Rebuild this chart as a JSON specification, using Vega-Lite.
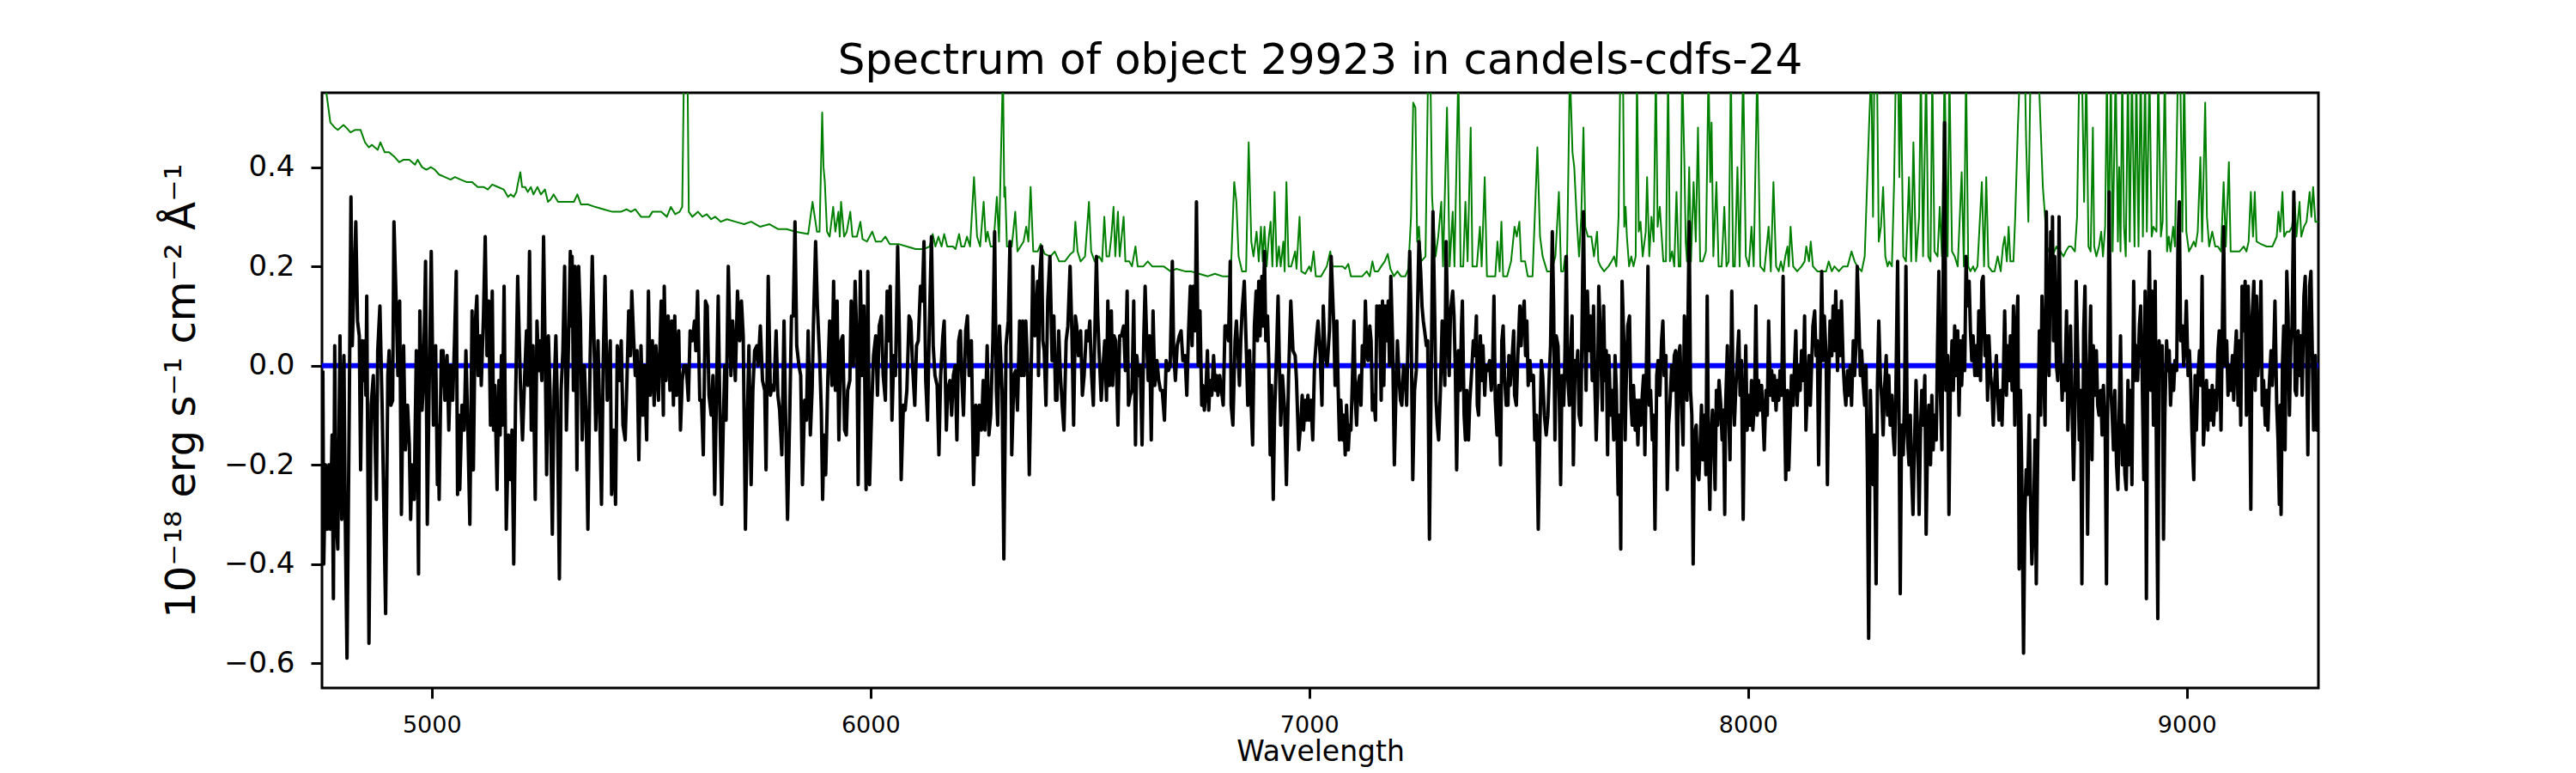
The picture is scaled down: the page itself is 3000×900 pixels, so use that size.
{
  "$schema": "https://vega.github.io/schema/vega-lite/v6.json",
  "width": 2325,
  "height": 693,
  "autosize": {"type": "none"},
  "padding": {"left": 375, "top": 108, "right": 300, "bottom": 99},
  "background": "white",
  "title": {
    "text": "Spectrum of object 29923 in candels-cdfs-24",
    "fontSize": 50,
    "fontWeight": "normal",
    "color": "black",
    "anchor": "middle",
    "frame": "group",
    "offset": 12
  },
  "config": {
    "font": "DejaVu Sans",
    "view": {"stroke": "black", "strokeWidth": 3}
  },
  "datasets": {
    "sky": [
      {"w":4750,"e":0.62},{"w":4760,"e":0.55},{"w":4769,"e":0.49},{"w":4779,"e":0.48},{"w":4786,"e":0.475},{"w":4799,"e":0.485},{"w":4805,"e":0.48},{"w":4815,"e":0.47},{"w":4825,"e":0.475},{"w":4838,"e":0.475},{"w":4848,"e":0.45},{"w":4857,"e":0.44},{"w":4864,"e":0.445},{"w":4870,"e":0.44},{"w":4877,"e":0.435},{"w":4883,"e":0.45},{"w":4893,"e":0.43},{"w":4903,"e":0.43},{"w":4916,"e":0.42},{"w":4926,"e":0.41},{"w":4936,"e":0.415},{"w":4949,"e":0.415},{"w":4962,"e":0.405},{"w":4968,"e":0.415},{"w":4978,"e":0.40},{"w":4988,"e":0.395},{"w":4998,"e":0.40},{"w":5007,"e":0.395},{"w":5017,"e":0.385},{"w":5030,"e":0.38},{"w":5043,"e":0.375},{"w":5053,"e":0.38},{"w":5066,"e":0.375},{"w":5079,"e":0.37},{"w":5092,"e":0.37},{"w":5105,"e":0.36},{"w":5118,"e":0.36},{"w":5128,"e":0.355},{"w":5138,"e":0.365},{"w":5151,"e":0.36},{"w":5164,"e":0.355},{"w":5174,"e":0.34},{"w":5180,"e":0.345},{"w":5187,"e":0.34},{"w":5193,"e":0.35},{"w":5196,"e":0.365},{"w":5202,"e":0.39},{"w":5206,"e":0.36},{"w":5213,"e":0.36},{"w":5219,"e":0.35},{"w":5226,"e":0.36},{"w":5232,"e":0.345},{"w":5241,"e":0.36},{"w":5249,"e":0.345},{"w":5258,"e":0.355},{"w":5265,"e":0.33},{"w":5271,"e":0.335},{"w":5278,"e":0.345},{"w":5288,"e":0.33},{"w":5307,"e":0.33},{"w":5324,"e":0.33},{"w":5332,"e":0.345},{"w":5340,"e":0.325},{"w":5356,"e":0.325},{"w":5372,"e":0.32},{"w":5392,"e":0.315},{"w":5412,"e":0.31},{"w":5431,"e":0.31},{"w":5444,"e":0.315},{"w":5454,"e":0.31},{"w":5464,"e":0.315},{"w":5477,"e":0.30},{"w":5496,"e":0.30},
      {"w":5503,"e":0.31},{"w":5523,"e":0.31},{"w":5536,"e":0.30},{"w":5545,"e":0.32},{"w":5555,"e":0.305},{"w":5565,"e":0.31},{"w":5571,"e":0.32},{"w":5575,"e":0.60},{"w":5583,"e":0.60},{"w":5586,"e":0.31},{"w":5594,"e":0.30},{"w":5607,"e":0.31},{"w":5617,"e":0.30},{"w":5627,"e":0.305},{"w":5637,"e":0.295},{"w":5646,"e":0.30},{"w":5659,"e":0.29},{"w":5673,"e":0.295},{"w":5692,"e":0.29},{"w":5712,"e":0.285},{"w":5728,"e":0.29},{"w":5748,"e":0.28},{"w":5770,"e":0.285},{"w":5790,"e":0.275},{"w":5809,"e":0.275},{"w":5829,"e":0.27},{"w":5858,"e":0.265},{"w":5868,"e":0.33},{"w":5878,"e":0.27},{"w":5884,"e":0.27},{"w":5890,"e":0.51},{"w":5893,"e":0.40},{"w":5896,"e":0.37},{"w":5901,"e":0.27},{"w":5907,"e":0.26},{"w":5915,"e":0.32},{"w":5920,"e":0.27},{"w":5927,"e":0.31},{"w":5930,"e":0.26},{"w":5933,"e":0.33},{"w":5940,"e":0.26},{"w":5946,"e":0.27},{"w":5954,"e":0.31},{"w":5959,"e":0.26},{"w":5969,"e":0.26},{"w":5977,"e":0.29},{"w":5982,"e":0.255},{"w":5992,"e":0.25},{"w":6004,"e":0.27},{"w":6012,"e":0.25},{"w":6025,"e":0.25},{"w":6034,"e":0.26},{"w":6044,"e":0.245},{"w":6064,"e":0.245},{"w":6083,"e":0.24},{"w":6103,"e":0.235},{"w":6122,"e":0.235},{"w":6135,"e":0.24},{"w":6142,"e":0.265},{"w":6148,"e":0.24},{"w":6155,"e":0.26},{"w":6162,"e":0.24},{"w":6168,"e":0.265},{"w":6175,"e":0.24},{"w":6188,"e":0.24},{"w":6194,"e":0.235},{"w":6202,"e":0.265},{"w":6207,"e":0.24},{"w":6214,"e":0.24},{"w":6220,"e":0.26},{"w":6227,"e":0.24},{"w":6236,"e":0.38},{"w":6243,"e":0.26},{"w":6250,"e":0.24},{"w":6258,"e":0.33},{"w":6263,"e":0.25},
      {"w":6267,"e":0.27},{"w":6274,"e":0.24},{"w":6280,"e":0.24},{"w":6288,"e":0.34},{"w":6293,"e":0.25},{"w":6302,"e":0.60},{"w":6305,"e":0.34},{"w":6307,"e":0.36},{"w":6311,"e":0.24},{"w":6316,"e":0.24},{"w":6322,"e":0.24},{"w":6330,"e":0.31},{"w":6335,"e":0.23},{"w":6342,"e":0.24},{"w":6349,"e":0.25},{"w":6355,"e":0.28},{"w":6360,"e":0.25},{"w":6365,"e":0.36},{"w":6371,"e":0.23},{"w":6381,"e":0.23},{"w":6388,"e":0.245},{"w":6397,"e":0.225},{"w":6410,"e":0.22},{"w":6420,"e":0.23},{"w":6430,"e":0.21},{"w":6443,"e":0.21},{"w":6456,"e":0.225},{"w":6463,"e":0.23},{"w":6467,"e":0.29},{"w":6472,"e":0.23},{"w":6479,"e":0.21},{"w":6489,"e":0.22},{"w":6498,"e":0.33},{"w":6503,"e":0.23},{"w":6511,"e":0.21},{"w":6521,"e":0.22},{"w":6528,"e":0.21},{"w":6533,"e":0.30},{"w":6538,"e":0.22},{"w":6544,"e":0.22},{"w":6549,"e":0.26},{"w":6554,"e":0.32},{"w":6558,"e":0.22},{"w":6564,"e":0.31},{"w":6568,"e":0.22},{"w":6577,"e":0.30},{"w":6581,"e":0.21},{"w":6590,"e":0.21},{"w":6596,"e":0.20},{"w":6604,"e":0.24},{"w":6609,"e":0.20},{"w":6622,"e":0.20},{"w":6632,"e":0.21},{"w":6642,"e":0.20},{"w":6658,"e":0.20},{"w":6668,"e":0.20},{"w":6684,"e":0.19},{"w":6697,"e":0.195},{"w":6717,"e":0.19},{"w":6730,"e":0.19},{"w":6749,"e":0.185},{"w":6769,"e":0.18},{"w":6785,"e":0.185},{"w":6802,"e":0.18},{"w":6821,"e":0.18},{"w":6829,"e":0.37},{"w":6834,"e":0.33},{"w":6839,"e":0.22},{"w":6847,"e":0.19},{"w":6856,"e":0.19},{"w":6862,"e":0.45},{"w":6868,"e":0.25},{"w":6873,"e":0.22},{"w":6880,"e":0.27},{"w":6885,"e":0.21},{"w":6890,"e":0.28},{"w":6894,"e":0.21},{"w":6898,"e":0.28},{"w":6903,"e":0.20},{"w":6908,"e":0.26},{"w":6912,"e":0.29},{"w":6916,"e":0.20},{"w":6921,"e":0.35},{"w":6926,"e":0.20},{"w":6931,"e":0.24},{"w":6935,"e":0.20},{"w":6941,"e":0.25},{"w":6944,"e":0.19},{"w":6948,"e":0.37},{"w":6953,"e":0.20},{"w":6959,"e":0.20},{"w":6968,"e":0.23},{"w":6971,"e":0.195},{"w":6978,"e":0.30},{"w":6982,"e":0.19},{"w":6991,"e":0.185},{"w":7000,"e":0.20},{"w":7004,"e":0.19},{"w":7010,"e":0.23},{"w":7015,"e":0.18},{"w":7027,"e":0.18},
      {"w":7040,"e":0.20},{"w":7048,"e":0.23},{"w":7053,"e":0.20},{"w":7063,"e":0.20},{"w":7076,"e":0.20},{"w":7082,"e":0.195},{"w":7089,"e":0.205},{"w":7095,"e":0.18},{"w":7108,"e":0.18},{"w":7121,"e":0.18},{"w":7131,"e":0.19},{"w":7138,"e":0.18},{"w":7144,"e":0.21},{"w":7149,"e":0.19},{"w":7157,"e":0.19},{"w":7164,"e":0.20},{"w":7172,"e":0.21},{"w":7179,"e":0.225},{"w":7185,"e":0.195},{"w":7193,"e":0.18},{"w":7201,"e":0.19},{"w":7209,"e":0.18},{"w":7219,"e":0.18},{"w":7226,"e":0.195},{"w":7232,"e":0.30},{"w":7237,"e":0.53},{"w":7242,"e":0.52},{"w":7246,"e":0.25},{"w":7250,"e":0.28},{"w":7255,"e":0.21},{"w":7265,"e":0.22},{"w":7271,"e":0.60},{"w":7276,"e":0.60},{"w":7280,"e":0.34},{"w":7284,"e":0.28},{"w":7288,"e":0.22},{"w":7294,"e":0.26},{"w":7301,"e":0.33},{"w":7305,"e":0.20},{"w":7314,"e":0.52},{"w":7320,"e":0.20},{"w":7327,"e":0.31},{"w":7331,"e":0.20},{"w":7340,"e":0.60},{"w":7345,"e":0.20},{"w":7351,"e":0.20},{"w":7356,"e":0.33},{"w":7361,"e":0.21},{"w":7368,"e":0.48},{"w":7372,"e":0.20},{"w":7382,"e":0.20},{"w":7389,"e":0.28},{"w":7393,"e":0.20},{"w":7400,"e":0.38},{"w":7405,"e":0.18},{"w":7415,"e":0.18},{"w":7424,"e":0.18},{"w":7429,"e":0.25},{"w":7434,"e":0.19},{"w":7438,"e":0.29},{"w":7442,"e":0.18},{"w":7451,"e":0.18},{"w":7460,"e":0.21},{"w":7468,"e":0.28},{"w":7473,"e":0.26},{"w":7479,"e":0.29},{"w":7483,"e":0.21},{"w":7492,"e":0.21},{"w":7498,"e":0.18},{"w":7509,"e":0.18},{"w":7520,"e":0.44},{"w":7526,"e":0.26},{"w":7532,"e":0.22},{"w":7542,"e":0.19},{"w":7552,"e":0.19},{"w":7561,"e":0.22},{"w":7569,"e":0.35},{"w":7574,"e":0.19},{"w":7579,"e":0.19},{"w":7583,"e":0.22},{"w":7587,"e":0.18},{"w":7594,"e":0.60},{"w":7600,"e":0.43},{"w":7604,"e":0.40},{"w":7610,"e":0.29},{"w":7615,"e":0.22},{"w":7620,"e":0.30},{"w":7625,"e":0.48},{"w":7629,"e":0.28},{"w":7635,"e":0.26},{"w":7643,"e":0.26},{"w":7649,"e":0.22},{"w":7656,"e":0.27},{"w":7659,"e":0.21},{"w":7664,"e":0.20},{"w":7672,"e":0.19},{"w":7682,"e":0.20},{"w":7689,"e":0.21},{"w":7695,"e":0.22},{"w":7700,"e":0.20},{"w":7705,"e":0.30},{"w":7709,"e":0.60},{"w":7715,"e":0.60},{"w":7718,"e":0.28},{"w":7721,"e":0.32},{"w":7724,"e":0.26},{"w":7729,"e":0.20},{"w":7734,"e":0.22},{"w":7739,"e":0.20},{"w":7744,"e":0.22},{"w":7747,"e":0.60},{"w":7751,"e":0.27},{"w":7755,"e":0.29},{"w":7760,"e":0.22},{"w":7767,"e":0.27},{"w":7770,"e":0.38},{"w":7775,"e":0.22},{"w":7780,"e":0.30},{"w":7785,"e":0.25},{"w":7790,"e":0.60},{"w":7794,"e":0.28},{"w":7799,"e":0.32},
      {"w":7807,"e":0.21},{"w":7813,"e":0.21},{"w":7818,"e":0.60},{"w":7822,"e":0.21},{"w":7827,"e":0.23},{"w":7832,"e":0.20},{"w":7837,"e":0.35},{"w":7842,"e":0.20},{"w":7846,"e":0.20},{"w":7850,"e":0.60},{"w":7855,"e":0.41},{"w":7858,"e":0.25},{"w":7861,"e":0.21},{"w":7866,"e":0.40},{"w":7870,"e":0.21},{"w":7876,"e":0.37},{"w":7881,"e":0.25},{"w":7886,"e":0.48},{"w":7891,"e":0.21},{"w":7897,"e":0.21},{"w":7904,"e":0.23},{"w":7910,"e":0.60},{"w":7914,"e":0.37},{"w":7917,"e":0.49},{"w":7921,"e":0.22},{"w":7928,"e":0.37},{"w":7933,"e":0.20},{"w":7940,"e":0.20},{"w":7946,"e":0.32},{"w":7951,"e":0.20},{"w":7956,"e":0.21},{"w":7961,"e":0.60},{"w":7966,"e":0.20},{"w":7970,"e":0.20},{"w":7976,"e":0.40},{"w":7981,"e":0.20},{"w":7989,"e":0.60},{"w":7995,"e":0.22},{"w":8002,"e":0.20},{"w":8008,"e":0.28},{"w":8013,"e":0.20},{"w":8021,"e":0.60},{"w":8028,"e":0.20},{"w":8037,"e":0.19},{"w":8047,"e":0.28},{"w":8052,"e":0.19},{"w":8058,"e":0.37},{"w":8064,"e":0.20},{"w":8070,"e":0.19},{"w":8075,"e":0.21},{"w":8080,"e":0.19},{"w":8085,"e":0.22},{"w":8090,"e":0.24},{"w":8093,"e":0.20},{"w":8097,"e":0.28},{"w":8103,"e":0.20},{"w":8112,"e":0.19},{"w":8122,"e":0.20},{"w":8129,"e":0.21},{"w":8133,"e":0.24},{"w":8139,"e":0.21},{"w":8143,"e":0.25},{"w":8148,"e":0.20},{"w":8158,"e":0.19},{"w":8168,"e":0.19},{"w":8178,"e":0.19},{"w":8184,"e":0.21},{"w":8191,"e":0.19},{"w":8197,"e":0.20},{"w":8207,"e":0.19},{"w":8217,"e":0.20},{"w":8227,"e":0.20},{"w":8236,"e":0.23},{"w":8243,"e":0.21},{"w":8249,"e":0.20},{"w":8259,"e":0.19},{"w":8266,"e":0.22},{"w":8272,"e":0.38},{"w":8277,"e":0.51},{"w":8281,"e":0.60},{"w":8285,"e":0.30},{"w":8288,"e":0.60},{"w":8294,"e":0.60},{"w":8298,"e":0.25},{"w":8303,"e":0.28},{"w":8308,"e":0.36},{"w":8313,"e":0.22},{"w":8318,"e":0.20},{"w":8322,"e":0.21},{"w":8328,"e":0.20},{"w":8333,"e":0.37},{"w":8337,"e":0.60},{"w":8342,"e":0.60},{"w":8345,"e":0.38},{"w":8348,"e":0.60},{"w":8354,"e":0.22},{"w":8360,"e":0.21},{"w":8367,"e":0.38},{"w":8372,"e":0.21},{"w":8377,"e":0.45},{"w":8383,"e":0.21},{"w":8390,"e":0.30},{"w":8394,"e":0.60},{"w":8399,"e":0.22},{"w":8406,"e":0.60},{"w":8411,"e":0.22},{"w":8416,"e":0.21},{"w":8420,"e":0.60},{"w":8425,"e":0.23},{"w":8432,"e":0.22},{"w":8437,"e":0.32},{"w":8442,"e":0.22},{"w":8448,"e":0.60},{"w":8455,"e":0.22},{"w":8459,"e":0.60},{"w":8465,"e":0.23},{"w":8471,"e":0.22},{"w":8478,"e":0.20},{"w":8487,"e":0.39},{"w":8492,"e":0.20},{"w":8497,"e":0.60},{"w":8502,"e":0.20},{"w":8507,"e":0.19},{"w":8513,"e":0.20},{"w":8517,"e":0.19},{"w":8523,"e":0.20},{"w":8533,"e":0.37},{"w":8538,"e":0.20},{"w":8543,"e":0.38},{"w":8548,"e":0.20},{"w":8556,"e":0.19},{"w":8562,"e":0.19},{"w":8569,"e":0.22},
      {"w":8576,"e":0.19},{"w":8581,"e":0.24},{"w":8585,"e":0.26},{"w":8590,"e":0.21},{"w":8594,"e":0.28},{"w":8598,"e":0.21},{"w":8605,"e":0.21},{"w":8609,"e":0.30},{"w":8615,"e":0.48},{"w":8620,"e":0.60},{"w":8624,"e":0.60},{"w":8631,"e":0.60},{"w":8634,"e":0.45},{"w":8639,"e":0.29},{"w":8644,"e":0.60},{"w":8654,"e":0.60},{"w":8662,"e":0.60},{"w":8667,"e":0.48},{"w":8672,"e":0.36},{"w":8677,"e":0.30},{"w":8681,"e":0.24},{"w":8686,"e":0.23},{"w":8693,"e":0.22},{"w":8703,"e":0.24},{"w":8712,"e":0.23},{"w":8719,"e":0.22},{"w":8724,"e":0.23},{"w":8731,"e":0.24},{"w":8737,"e":0.24},{"w":8745,"e":0.23},{"w":8750,"e":0.30},{"w":8755,"e":0.60},{"w":8761,"e":0.60},{"w":8766,"e":0.33},{"w":8771,"e":0.60},{"w":8776,"e":0.24},{"w":8781,"e":0.23},{"w":8786,"e":0.48},{"w":8789,"e":0.24},{"w":8794,"e":0.22},{"w":8800,"e":0.24},{"w":8805,"e":0.27},{"w":8809,"e":0.22},{"w":8814,"e":0.28},{"w":8818,"e":0.60},{"w":8822,"e":0.22},{"w":8827,"e":0.60},{"w":8831,"e":0.23},{"w":8838,"e":0.60},{"w":8843,"e":0.25},{"w":8846,"e":0.40},{"w":8849,"e":0.23},{"w":8853,"e":0.60},{"w":8857,"e":0.28},{"w":8861,"e":0.22},{"w":8866,"e":0.60},{"w":8870,"e":0.25},{"w":8875,"e":0.60},{"w":8881,"e":0.24},{"w":8885,"e":0.60},{"w":8890,"e":0.24},{"w":8895,"e":0.60},{"w":8900,"e":0.26},{"w":8905,"e":0.60},{"w":8909,"e":0.27},{"w":8915,"e":0.60},{"w":8920,"e":0.26},{"w":8924,"e":0.28},{"w":8931,"e":0.27},{"w":8935,"e":0.60},{"w":8941,"e":0.26},{"w":8945,"e":0.29},{"w":8950,"e":0.60},{"w":8955,"e":0.23},{"w":8959,"e":0.26},{"w":8963,"e":0.23},{"w":8969,"e":0.28},{"w":8973,"e":0.24},{"w":8980,"e":0.60},{"w":8985,"e":0.60},{"w":8990,"e":0.27},{"w":8994,"e":0.60},{"w":8999,"e":0.27},{"w":9005,"e":0.23},{"w":9011,"e":0.24},{"w":9016,"e":0.25},{"w":9020,"e":0.24},{"w":9025,"e":0.27},{"w":9031,"e":0.42},{"w":9035,"e":0.25},{"w":9042,"e":0.53},{"w":9046,"e":0.30},{"w":9051,"e":0.24},{"w":9058,"e":0.27},{"w":9065,"e":0.24},{"w":9071,"e":0.24},{"w":9078,"e":0.23},{"w":9084,"e":0.37},{"w":9089,"e":0.24},{"w":9096,"e":0.41},{"w":9100,"e":0.23},{"w":9110,"e":0.23},{"w":9120,"e":0.23},{"w":9130,"e":0.24},{"w":9136,"e":0.23},{"w":9141,"e":0.25},{"w":9146,"e":0.35},{"w":9151,"e":0.26},{"w":9155,"e":0.35},{"w":9159,"e":0.25},{"w":9169,"e":0.245},{"w":9182,"e":0.24},{"w":9195,"e":0.24},{"w":9205,"e":0.26},{"w":9209,"e":0.31},{"w":9213,"e":0.27},{"w":9218,"e":0.35},{"w":9222,"e":0.26},{"w":9228,"e":0.27},{"w":9234,"e":0.27},{"w":9240,"e":0.28},{"w":9246,"e":0.33},{"w":9250,"e":0.26},{"w":9257,"e":0.33},{"w":9261,"e":0.26},{"w":9267,"e":0.28},{"w":9273,"e":0.29},{"w":9280,"e":0.35},{"w":9284,"e":0.30},{"w":9288,"e":0.36},{"w":9293,"e":0.29},{"w":9300,"e":0.29}
    ],
    "flux": [
      {"w":4752,"f":-0.01},{"w":4754,"f":-0.40},{"w":4758,"f":-0.20},{"w":4762,"f":-0.33},{"w":4766,"f":-0.20},{"w":4769,"f":-0.33},{"w":4773,"f":-0.14},{"w":4776,"f":-0.47},{"w":4779,"f":0.04},{"w":4782,"f":-0.30},{"w":4786,"f":-0.37},{"w":4791,"f":0.06},{"w":4795,"f":-0.31},{"w":4800,"f":0.02},{"w":4803,"f":-0.31},{"w":4807,"f":-0.59},{"w":4812,"f":-0.10},{"w":4816,"f":0.34},{"w":4819,"f":0.04},{"w":4827,"f":0.29},{"w":4831,"f":0.09},{"w":4835,"f":0.06},{"w":4838,"f":-0.21},{"w":4842,"f":0.05},{"w":4846,"f":-0.03},{"w":4848,"f":0.05},{"w":4850,"f":-0.06},{"w":4852,"f":0.14},{"w":4857,"f":-0.56},{"w":4862,"f":-0.08},{"w":4867,"f":-0.02},{"w":4870,"f":-0.12},{"w":4874,"f":-0.27},{"w":4877,"f":0.03},{"w":4882,"f":0.12},{"w":4887,"f":-0.08},{"w":4895,"f":-0.50},{"w":4900,"f":-0.02},{"w":4903,"f":0.03},{"w":4907,"f":-0.08},{"w":4911,"f":-0.07},{"w":4914,"f":0.29},{"w":4919,"f":0.13},{"w":4923,"f":-0.02},{"w":4927,"f":0.13},{"w":4931,"f":-0.30},{"w":4936,"f":0.04},{"w":4940,"f":-0.17},{"w":4945,"f":-0.08},{"w":4949,"f":-0.16},{"w":4952,"f":-0.31},{"w":4955,"f":-0.20},{"w":4960,"f":-0.27},{"w":4965,"f":0.03},{"w":4970,"f":-0.42},{"w":4973,"f":0.11},{"w":4978,"f":-0.09},{"w":4981,"f":-0.04},{"w":4986,"f":0.21},{"w":4990,"f":-0.32},{"w":4994,"f":-0.06},{"w":4999,"f":0.23},{"w":5004,"f":-0.12},{"w":5009,"f":0.04},{"w":5013,"f":-0.24},{"w":5015,"f":-0.12},{"w":5017,"f":-0.27},{"w":5022,"f":0.03},{"w":5024,"f":-0.04},{"w":5026,"f":0.03},{"w":5030,"f":-0.07},{"w":5035,"f":0.02},{"w":5039,"f":-0.13},{"w":5043,"f":0.00},{"w":5048,"f":-0.07},{"w":5052,"f":0.05},{"w":5056,"f":0.19},{"w":5059,"f":-0.26},{"w":5062,"f":-0.10},{"w":5064,"f":-0.25},{"w":5069,"f":-0.08},{"w":5074,"f":-0.13},{"w":5078,"f":0.03},{"w":5082,"f":-0.11},{"w":5087,"f":-0.32},{"w":5092,"f":0.11},{"w":5095,"f":-0.21},{"w":5099,"f":0.08},{"w":5103,"f":0.14},{"w":5106,"f":-0.02},{"w":5110,"f":0.06},{"w":5113,"f":-0.04},{"w":5118,"f":0.10},{"w":5122,"f":0.26},{"w":5126,"f":0.02},{"w":5130,"f":0.13},{"w":5134,"f":-0.12},{"w":5138,"f":0.15},{"w":5141,"f":-0.13},{"w":5144,"f":-0.04},{"w":5149,"f":-0.25},{"w":5153,"f":-0.03},{"w":5156,"f":-0.14},{"w":5159,"f":0.02},{"w":5161,"f":-0.12},{"w":5165,"f":0.16},{"w":5170,"f":-0.33},{"w":5175,"f":-0.14},{"w":5180,"f":-0.23},{"w":5183,"f":-0.13},{"w":5187,"f":-0.40},{"w":5191,"f":-0.08},{"w":5196,"f":0.18},{"w":5202,"f":-0.03},{"w":5207,"f":-0.15},{"w":5212,"f":-0.02},{"w":5216,"f":0.07},{"w":5219,"f":-0.04},{"w":5223,"f":0.23},{"w":5227,"f":-0.13},{"w":5231,"f":0.04},{"w":5236,"f":-0.27},{"w":5240,"f":0.09},{"w":5244,"f":-0.01},{"w":5247,"f":0.05},{"w":5251,"f":-0.03},{"w":5255,"f":0.26},{"w":5259,"f":0.00},{"w":5262,"f":-0.22},{"w":5266,"f":0.06},{"w":5270,"f":-0.06},{"w":5275,"f":-0.34},{"w":5279,"f":-0.05},{"w":5283,"f":0.06},{"w":5286,"f":-0.06},{"w":5291,"f":-0.43},{"w":5295,"f":-0.05},{"w":5299,"f":0.03},{"w":5303,"f":0.20},{"w":5307,"f":-0.13},{"w":5311,"f":0.01},{"w":5316,"f":0.23},{"w":5318,"f":0.08},{"w":5320,"f":0.22},{"w":5323,"f":-0.05},{"w":5327,"f":0.20},{"w":5331,"f":-0.21},{"w":5335,"f":0.20},{"w":5339,"f":0.09},{"w":5343,"f":-0.15},{"w":5348,"f":0.00},{"w":5352,"f":-0.10},{"w":5356,"f":-0.33},{"w":5361,"f":0.01},{"w":5366,"f":0.22},{"w":5370,"f":0.05},{"w":5374,"f":-0.13},{"w":5379,"f":0.05},{"w":5383,"f":-0.10},{"w":5387,"f":-0.28},{"w":5391,"f":0.01},{"w":5395,"f":0.18},{"w":5400,"f":-0.07},{"w":5404,"f":-0.02},{"w":5407,"f":0.05},{"w":5410,"f":-0.26},{"w":5415,"f":-0.13},{"w":5419,"f":-0.28},{"w":5423,"f":0.04},{"w":5428,"f":-0.03},{"w":5432,"f":0.05},{"w":5436,"f":-0.12},{"w":5441,"f":-0.15},{"w":5445,"f":-0.03},{"w":5449,"f":0.11},{"w":5453,"f":0.02},{"w":5456,"f":0.15},{"w":5460,"f":0.06},{"w":5464,"f":-0.02},{"w":5468,"f":0.03},{"w":5472,"f":-0.19},{"w":5477,"f":0.04},{"w":5481,"f":-0.10},{"w":5485,"f":0.00},{"w":5490,"f":-0.15},{"w":5494,"f":0.15},{"w":5498,"f":-0.06},{"w":5503,"f":0.05},{"w":5507,"f":-0.08},{"w":5511,"f":0.04},{"w":5517,"f":-0.07},
      {"w":5523,"f":0.13},{"w":5528,"f":-0.10},{"w":5530,"f":0.16},{"w":5534,"f":-0.03},{"w":5539,"f":0.10},{"w":5543,"f":-0.05},{"w":5547,"f":0.09},{"w":5551,"f":-0.08},{"w":5554,"f":0.10},{"w":5558,"f":-0.06},{"w":5563,"f":0.07},{"w":5567,"f":-0.13},{"w":5571,"f":-0.03},{"w":5575,"f":0.00},{"w":5580,"f":0.00},{"w":5585,"f":-0.07},{"w":5589,"f":0.07},{"w":5594,"f":0.05},{"w":5599,"f":0.09},{"w":5602,"f":0.03},{"w":5606,"f":0.15},{"w":5611,"f":-0.07},{"w":5615,"f":-0.07},{"w":5619,"f":-0.18},{"w":5624,"f":0.13},{"w":5628,"f":0.12},{"w":5632,"f":-0.06},{"w":5637,"f":-0.10},{"w":5641,"f":-0.02},{"w":5645,"f":-0.26},{"w":5650,"f":-0.01},{"w":5653,"f":0.14},{"w":5657,"f":-0.10},{"w":5661,"f":-0.28},{"w":5665,"f":-0.10},{"w":5668,"f":0.00},{"w":5671,"f":-0.11},{"w":5676,"f":0.20},{"w":5679,"f":0.09},{"w":5682,"f":-0.02},{"w":5686,"f":0.09},{"w":5692,"f":-0.03},{"w":5697,"f":0.15},{"w":5702,"f":0.05},{"w":5706,"f":0.13},{"w":5710,"f":0.06},{"w":5715,"f":-0.33},{"w":5719,"f":-0.12},{"w":5723,"f":0.04},{"w":5728,"f":-0.24},{"w":5732,"f":-0.05},{"w":5736,"f":0.03},{"w":5741,"f":0.04},{"w":5744,"f":0.00},{"w":5749,"f":0.08},{"w":5754,"f":-0.03},{"w":5759,"f":-0.05},{"w":5762,"f":-0.21},{"w":5767,"f":0.18},{"w":5772,"f":-0.06},{"w":5776,"f":-0.04},{"w":5780,"f":-0.05},{"w":5785,"f":0.07},{"w":5789,"f":-0.06},{"w":5793,"f":-0.09},{"w":5798,"f":-0.18},{"w":5803,"f":0.09},{"w":5807,"f":-0.12},{"w":5811,"f":-0.31},{"w":5816,"f":-0.10},{"w":5820,"f":0.10},{"w":5824,"f":0.10},{"w":5828,"f":0.29},{"w":5832,"f":0.04},{"w":5837,"f":0.00},{"w":5841,"f":-0.02},{"w":5845,"f":-0.24},{"w":5850,"f":-0.07},{"w":5854,"f":-0.11},{"w":5858,"f":0.07},{"w":5863,"f":-0.14},{"w":5867,"f":-0.05},{"w":5870,"f":0.08},{"w":5875,"f":0.25},{"w":5879,"f":0.12},{"w":5884,"f":0.02},{"w":5888,"f":-0.09},{"w":5891,"f":-0.27},{"w":5894,"f":-0.14},{"w":5898,"f":-0.22},{"w":5903,"f":-0.02},{"w":5907,"f":0.09},{"w":5912,"f":-0.04},{"w":5916,"f":0.17},{"w":5920,"f":-0.05},{"w":5924,"f":0.13},{"w":5928,"f":-0.15},{"w":5933,"f":0.05},{"w":5937,"f":0.06},{"w":5941,"f":-0.13},{"w":5945,"f":-0.14},{"w":5948,"f":-0.05},{"w":5953,"f":-0.03},{"w":5956,"f":0.13},{"w":5961,"f":0.00},{"w":5965,"f":0.17},{"w":5969,"f":0.05},{"w":5972,"f":-0.24},{"w":5977,"f":0.19},{"w":5981,"f":-0.02},{"w":5985,"f":0.12},{"w":5990,"f":-0.25},{"w":5994,"f":0.19},{"w":5998,"f":-0.24},{"w":6003,"f":-0.08},{"w":6007,"f":0.02},{"w":6012,"f":0.06},{"w":6016,"f":-0.06},{"w":6020,"f":0.08},{"w":6025,"f":0.10},{"w":6029,"f":-0.02},{"w":6034,"f":-0.07},{"w":6038,"f":0.15},{"w":6042,"f":0.05},{"w":6045,"f":0.16},{"w":6049,"f":-0.11},{"w":6053,"f":0.02},{"w":6057,"f":-0.02},{"w":6062,"f":0.24},{"w":6066,"f":0.06},{"w":6070,"f":-0.23},{"w":6075,"f":-0.08},{"w":6079,"f":-0.09},{"w":6083,"f":-0.05},{"w":6088,"f":0.10},{"w":6092,"f":0.09},{"w":6096,"f":0.00},{"w":6101,"f":-0.08},{"w":6105,"f":0.04},{"w":6109,"f":0.05},{"w":6114,"f":0.16},{"w":6118,"f":0.13},{"w":6122,"f":0.25},{"w":6126,"f":-0.03},{"w":6130,"f":-0.11},{"w":6134,"f":0.07},{"w":6139,"f":0.26},{"w":6143,"f":0.04},{"w":6147,"f":-0.02},{"w":6152,"f":-0.04},{"w":6156,"f":-0.18},{"w":6160,"f":-0.02},{"w":6165,"f":0.06},{"w":6168,"f":0.09},{"w":6173,"f":-0.13},{"w":6176,"f":-0.05},{"w":6181,"f":-0.03},{"w":6185,"f":-0.10},{"w":6189,"f":-0.02},{"w":6193,"f":0.00},{"w":6197,"f":-0.15},{"w":6201,"f":0.05},{"w":6205,"f":0.07},{"w":6208,"f":-0.02},{"w":6212,"f":-0.10},{"w":6217,"f":0.07},{"w":6221,"f":0.10},{"w":6225,"f":-0.02},{"w":6230,"f":0.05},{"w":6235,"f":-0.24},{"w":6240,"f":-0.08},{"w":6244,"f":-0.18},{"w":6248,"f":-0.08},{"w":6253,"f":-0.13},{"w":6257,"f":-0.03},{"w":6261,"f":-0.13},{"w":6266,"f":0.04},{"w":6270,"f":-0.14},{"w":6274,"f":-0.10},{"w":6279,"f":0.05},
      {"w":6283,"f":0.27},{"w":6287,"f":-0.05},{"w":6290,"f":-0.12},{"w":6294,"f":0.08},{"w":6300,"f":-0.05},{"w":6304,"f":-0.39},{"w":6309,"f":0.04},{"w":6314,"f":0.09},{"w":6318,"f":0.25},{"w":6322,"f":-0.18},{"w":6327,"f":-0.02},{"w":6331,"f":-0.01},{"w":6335,"f":-0.09},{"w":6340,"f":0.09},{"w":6344,"f":-0.02},{"w":6347,"f":0.09},{"w":6350,"f":-0.02},{"w":6354,"f":0.09},{"w":6358,"f":0.00},{"w":6362,"f":-0.22},{"w":6366,"f":-0.03},{"w":6370,"f":0.20},{"w":6375,"f":0.06},{"w":6378,"f":0.10},{"w":6381,"f":0.17},{"w":6383,"f":-0.02},{"w":6386,"f":0.18},{"w":6390,"f":0.24},{"w":6393,"f":0.05},{"w":6396,"f":0.03},{"w":6400,"f":-0.08},{"w":6404,"f":0.13},{"w":6409,"f":0.22},{"w":6414,"f":0.01},{"w":6418,"f":0.10},{"w":6422,"f":-0.07},{"w":6425,"f":-0.07},{"w":6429,"f":0.07},{"w":6433,"f":-0.02},{"w":6437,"f":-0.08},{"w":6441,"f":-0.13},{"w":6446,"f":0.05},{"w":6450,"f":0.08},{"w":6455,"f":0.20},{"w":6459,"f":0.07},{"w":6463,"f":-0.12},{"w":6467,"f":0.10},{"w":6470,"f":0.08},{"w":6474,"f":0.02},{"w":6479,"f":0.07},{"w":6483,"f":-0.06},{"w":6487,"f":-0.02},{"w":6492,"f":0.07},{"w":6496,"f":0.05},{"w":6500,"f":0.09},{"w":6504,"f":-0.02},{"w":6508,"f":-0.08},{"w":6511,"f":0.05},{"w":6515,"f":0.22},{"w":6518,"f":0.10},{"w":6521,"f":0.03},{"w":6526,"f":-0.07},{"w":6531,"f":0.01},{"w":6534,"f":0.05},{"w":6538,"f":-0.07},{"w":6541,"f":0.13},{"w":6545,"f":-0.04},{"w":6549,"f":0.11},{"w":6552,"f":-0.04},{"w":6555,"f":0.06},{"w":6559,"f":0.05},{"w":6564,"f":-0.12},{"w":6568,"f":0.06},{"w":6572,"f":0.06},{"w":6577,"f":0.08},{"w":6581,"f":-0.01},{"w":6585,"f":0.15},{"w":6588,"f":-0.08},{"w":6592,"f":-0.06},{"w":6596,"f":-0.05},{"w":6600,"f":0.13},{"w":6604,"f":-0.16},{"w":6607,"f":0.02},{"w":6611,"f":-0.02},{"w":6615,"f":0.00},{"w":6619,"f":-0.16},{"w":6623,"f":0.06},{"w":6626,"f":0.16},{"w":6630,"f":0.04},{"w":6633,"f":-0.03},{"w":6636,"f":0.06},{"w":6640,"f":-0.15},{"w":6644,"f":0.11},{"w":6648,"f":-0.04},{"w":6653,"f":0.01},{"w":6657,"f":-0.03},{"w":6661,"f":-0.05},{"w":6665,"f":-0.05},{"w":6670,"f":-0.11},{"w":6674,"f":0.01},{"w":6679,"f":-0.01},{"w":6683,"f":0.00},{"w":6688,"f":0.21},{"w":6691,"f":0.03},{"w":6695,"f":-0.03},{"w":6699,"f":0.04},{"w":6704,"f":0.06},{"w":6708,"f":0.07},{"w":6712,"f":0.01},{"w":6717,"f":0.02},{"w":6721,"f":-0.06},{"w":6725,"f":0.07},{"w":6729,"f":0.16},{"w":6733,"f":0.04},{"w":6736,"f":0.16},{"w":6740,"f":0.07},{"w":6743,"f":0.33},{"w":6747,"f":0.00},{"w":6751,"f":0.11},{"w":6755,"f":-0.08},{"w":6757,"f":-0.04},{"w":6761,"f":-0.09},{"w":6764,"f":-0.06},{"w":6768,"f":0.03},{"w":6771,"f":-0.09},{"w":6774,"f":-0.03},{"w":6778,"f":-0.06},{"w":6782,"f":0.02},{"w":6786,"f":-0.05},{"w":6789,"f":-0.02},{"w":6792,"f":-0.06},{"w":6796,"f":-0.02},{"w":6800,"f":-0.05},{"w":6804,"f":-0.08},{"w":6808,"f":0.08},{"w":6812,"f":0.08},{"w":6816,"f":0.05},{"w":6820,"f":0.21},{"w":6822,"f":-0.08},{"w":6826,"f":-0.12},{"w":6831,"f":0.05},{"w":6834,"f":0.09},{"w":6838,"f":0.02},{"w":6841,"f":-0.04},{"w":6844,"f":0.05},{"w":6847,"f":0.11},{"w":6852,"f":0.17},{"w":6857,"f":0.02},{"w":6860,"f":-0.08},{"w":6864,"f":0.03},{"w":6867,"f":-0.06},{"w":6871,"f":-0.16},{"w":6875,"f":0.08},{"w":6879,"f":0.15},{"w":6882,"f":0.05},{"w":6885,"f":0.17},{"w":6888,"f":0.06},{"w":6892,"f":0.18},{"w":6895,"f":0.08},{"w":6898,"f":0.23},{"w":6901,"f":0.05},{"w":6905,"f":0.10},{"w":6908,"f":0.00},{"w":6911,"f":-0.18},{"w":6914,"f":-0.04},{"w":6918,"f":-0.27},{"w":6921,"f":-0.10},{"w":6926,"f":0.04},{"w":6929,"f":0.14},{"w":6932,"f":0.00},{"w":6935,"f":-0.12},{"w":6939,"f":-0.02},{"w":6944,"f":-0.09},{"w":6948,"f":-0.24},{"w":6953,"f":-0.02},{"w":6958,"f":0.13},{"w":6963,"f":0.03},{"w":6968,"f":0.02},{"w":6971,"f":-0.03},{"w":6976,"f":-0.17},{"w":6981,"f":-0.11},{"w":6984,"f":-0.06},{"w":6987,"f":-0.13},{"w":6991,"f":-0.07},{"w":6994,"f":-0.11},{"w":6997,"f":-0.06},{"w":7000,"f":-0.11},{"w":7004,"f":-0.07},{"w":7008,"f":-0.15},{"w":7012,"f":0.00},{"w":7017,"f":0.06},{"w":7020,"f":0.09},{"w":7025,"f":0.02},{"w":7029,"f":-0.08},{"w":7032,"f":0.12},{"w":7036,"f":0.02},{"w":7041,"f":0.00},{"w":7046,"f":0.07},
      {"w":7050,"f":0.22},{"w":7056,"f":0.08},{"w":7059,"f":-0.04},{"w":7063,"f":0.09},{"w":7066,"f":-0.05},{"w":7069,"f":-0.15},{"w":7072,"f":-0.07},{"w":7076,"f":-0.15},{"w":7079,"f":-0.10},{"w":7082,"f":-0.18},{"w":7085,"f":-0.08},{"w":7089,"f":-0.17},{"w":7092,"f":-0.12},{"w":7095,"f":-0.13},{"w":7098,"f":-0.04},{"w":7102,"f":0.09},{"w":7105,"f":-0.07},{"w":7108,"f":-0.12},{"w":7111,"f":-0.04},{"w":7115,"f":-0.02},{"w":7118,"f":-0.08},{"w":7121,"f":0.04},{"w":7125,"f":0.00},{"w":7128,"f":0.13},{"w":7131,"f":0.03},{"w":7134,"f":0.01},{"w":7138,"f":0.08},{"w":7141,"f":0.05},{"w":7144,"f":-0.09},{"w":7147,"f":-0.06},{"w":7151,"f":-0.11},{"w":7154,"f":0.12},{"w":7157,"f":0.06},{"w":7160,"f":0.12},{"w":7164,"f":-0.07},{"w":7167,"f":0.13},{"w":7170,"f":-0.04},{"w":7173,"f":0.12},{"w":7177,"f":0.05},{"w":7180,"f":0.13},{"w":7183,"f":0.00},{"w":7186,"f":0.18},{"w":7190,"f":0.05},{"w":7194,"f":-0.20},{"w":7198,"f":-0.04},{"w":7201,"f":0.05},{"w":7205,"f":-0.03},{"w":7208,"f":-0.07},{"w":7211,"f":-0.08},{"w":7215,"f":0.00},{"w":7219,"f":-0.02},{"w":7222,"f":-0.08},{"w":7226,"f":0.09},{"w":7229,"f":0.23},{"w":7232,"f":0.10},{"w":7236,"f":-0.23},{"w":7240,"f":-0.05},{"w":7244,"f":-0.01},{"w":7247,"f":0.12},{"w":7250,"f":0.25},{"w":7254,"f":0.19},{"w":7257,"f":0.12},{"w":7260,"f":0.09},{"w":7263,"f":0.07},{"w":7267,"f":0.04},{"w":7270,"f":0.05},{"w":7274,"f":-0.35},{"w":7278,"f":-0.02},{"w":7282,"f":0.31},{"w":7286,"f":0.10},{"w":7289,"f":-0.07},{"w":7292,"f":-0.12},{"w":7295,"f":-0.15},{"w":7299,"f":-0.05},{"w":7303,"f":0.09},{"w":7306,"f":0.03},{"w":7309,"f":-0.04},{"w":7312,"f":0.25},{"w":7316,"f":0.06},{"w":7319,"f":-0.02},{"w":7322,"f":0.11},{"w":7327,"f":0.15},{"w":7330,"f":0.10},{"w":7333,"f":-0.01},{"w":7336,"f":-0.21},{"w":7340,"f":0.03},{"w":7344,"f":-0.05},{"w":7347,"f":0.08},{"w":7349,"f":0.13},{"w":7353,"f":-0.10},{"w":7356,"f":-0.15},{"w":7359,"f":-0.05},{"w":7363,"f":-0.15},{"w":7366,"f":-0.07},{"w":7369,"f":-0.03},{"w":7374,"f":0.05},{"w":7377,"f":0.02},{"w":7381,"f":0.10},{"w":7383,"f":-0.08},{"w":7386,"f":-0.10},{"w":7390,"f":0.06},{"w":7394,"f":-0.03},{"w":7396,"f":0.04},{"w":7400,"f":-0.06},{"w":7403,"f":0.00},{"w":7407,"f":-0.01},{"w":7411,"f":0.01},{"w":7415,"f":-0.05},{"w":7418,"f":0.00},{"w":7421,"f":0.14},{"w":7424,"f":-0.07},{"w":7428,"f":-0.14},{"w":7432,"f":-0.04},{"w":7436,"f":-0.20},{"w":7439,"f":0.05},{"w":7442,"f":0.08},{"w":7445,"f":-0.02},{"w":7449,"f":-0.08},{"w":7453,"f":-0.08},{"w":7455,"f":0.02},{"w":7458,"f":-0.04},{"w":7462,"f":0.01},{"w":7466,"f":0.07},{"w":7468,"f":-0.06},{"w":7472,"f":-0.08},{"w":7475,"f":0.01},{"w":7480,"f":0.12},{"w":7483,"f":0.04},{"w":7486,"f":0.10},{"w":7490,"f":0.13},{"w":7493,"f":0.02},{"w":7496,"f":0.09},{"w":7499,"f":-0.04},{"w":7503,"f":0.01},{"w":7506,"f":-0.03},{"w":7511,"f":-0.02},{"w":7514,"f":-0.15},{"w":7518,"f":-0.10},{"w":7522,"f":-0.33},{"w":7526,"f":-0.12},{"w":7529,"f":0.01},{"w":7532,"f":-0.02},{"w":7536,"f":-0.10},{"w":7540,"f":-0.14},{"w":7544,"f":-0.10},{"w":7547,"f":-0.02},{"w":7550,"f":0.04},{"w":7554,"f":0.27},{"w":7557,"f":0.12},{"w":7560,"f":-0.15},{"w":7563,"f":0.06},{"w":7567,"f":0.04},{"w":7570,"f":-0.07},{"w":7573,"f":-0.24},{"w":7576,"f":-0.02},{"w":7580,"f":-0.08},{"w":7582,"f":-0.02},{"w":7586,"f":0.22},{"w":7589,"f":-0.02},{"w":7593,"f":-0.08},{"w":7596,"f":0.03},{"w":7599,"f":0.10},{"w":7602,"f":-0.20},{"w":7606,"f":0.01},{"w":7609,"f":-0.01},{"w":7612,"f":0.03},{"w":7615,"f":-0.10},{"w":7619,"f":-0.12},{"w":7625,"f":0.31},{"w":7628,"f":0.07},{"w":7631,"f":-0.05},{"w":7634,"f":0.15},{"w":7638,"f":0.03},{"w":7641,"f":0.10},{"w":7645,"f":-0.03},{"w":7648,"f":0.12},{"w":7651,"f":-0.04},{"w":7654,"f":-0.15},{"w":7657,"f":-0.06},{"w":7660,"f":0.16},{"w":7664,"f":0.05},{"w":7668,"f":-0.09},{"w":7671,"f":0.12},{"w":7674,"f":-0.03},{"w":7677,"f":0.03},{"w":7680,"f":-0.18},{"w":7683,"f":0.02},{"w":7687,"f":-0.10},{"w":7690,"f":-0.05},{"w":7694,"f":-0.15},{"w":7697,"f":0.02},{"w":7700,"f":-0.05},{"w":7704,"f":-0.26},{"w":7707,"f":-0.10},{"w":7710,"f":-0.37},{"w":7713,"f":0.17},{"w":7717,"f":0.05},{"w":7720,"f":-0.15},{"w":7722,"f":-0.05},{"w":7726,"f":0.08},{"w":7730,"f":0.10},{"w":7733,"f":-0.07},{"w":7736,"f":-0.12},{"w":7739,"f":-0.04},{"w":7743,"f":-0.13},{"w":7746,"f":-0.07},{"w":7749,"f":-0.16},{"w":7752,"f":-0.07},{"w":7756,"f":-0.12},{"w":7759,"f":-0.06},{"w":7762,"f":-0.02},{"w":7765,"f":-0.18},{"w":7769,"f":0.03},{"w":7772,"f":0.20},{"w":7775,"f":-0.08},{"w":7778,"f":-0.05},{"w":7782,"f":-0.15},{"w":7785,"f":-0.10},{"w":7788,"f":-0.33},{"w":7792,"f":-0.02},{"w":7795,"f":0.01},{"w":7799,"f":-0.06},{"w":7803,"f":0.05},{"w":7806,"f":0.09},{"w":7809,"f":-0.02},
      {"w":7813,"f":0.02},{"w":7816,"f":-0.25},{"w":7819,"f":-0.12},{"w":7822,"f":-0.08},{"w":7826,"f":0.00},{"w":7829,"f":-0.05},{"w":7832,"f":0.02},{"w":7835,"f":0.03},{"w":7839,"f":-0.21},{"w":7842,"f":0.02},{"w":7845,"f":0.04},{"w":7848,"f":-0.06},{"w":7852,"f":-0.16},{"w":7855,"f":0.10},{"w":7858,"f":0.02},{"w":7861,"f":-0.07},{"w":7866,"f":0.29},{"w":7869,"f":-0.05},{"w":7872,"f":-0.10},{"w":7875,"f":-0.40},{"w":7878,"f":-0.14},{"w":7882,"f":-0.12},{"w":7885,"f":-0.22},{"w":7888,"f":-0.23},{"w":7891,"f":-0.16},{"w":7894,"f":-0.08},{"w":7897,"f":-0.19},{"w":7901,"f":-0.10},{"w":7904,"f":-0.22},{"w":7907,"f":0.14},{"w":7910,"f":-0.17},{"w":7913,"f":-0.29},{"w":7916,"f":-0.14},{"w":7919,"f":-0.09},{"w":7922,"f":-0.15},{"w":7925,"f":-0.25},{"w":7928,"f":-0.05},{"w":7931,"f":-0.12},{"w":7934,"f":-0.03},{"w":7938,"f":-0.08},{"w":7941,"f":-0.15},{"w":7944,"f":-0.09},{"w":7947,"f":-0.30},{"w":7949,"f":-0.08},{"w":7953,"f":0.04},{"w":7956,"f":-0.10},{"w":7959,"f":-0.19},{"w":7963,"f":0.15},{"w":7966,"f":-0.05},{"w":7969,"f":-0.12},{"w":7972,"f":-0.05},{"w":7976,"f":0.02},{"w":7979,"f":0.07},{"w":7982,"f":-0.06},{"w":7985,"f":0.01},{"w":7989,"f":-0.31},{"w":7992,"f":-0.08},{"w":7995,"f":0.04},{"w":7998,"f":-0.13},{"w":8002,"f":-0.06},{"w":8005,"f":-0.12},{"w":8008,"f":-0.03},{"w":8011,"f":-0.13},{"w":8015,"f":-0.07},{"w":8018,"f":0.12},{"w":8021,"f":-0.10},{"w":8024,"f":-0.03},{"w":8028,"f":-0.09},{"w":8031,"f":-0.04},{"w":8034,"f":-0.10},{"w":8037,"f":-0.17},{"w":8041,"f":-0.05},{"w":8044,"f":-0.10},{"w":8047,"f":0.09},{"w":8051,"f":-0.06},{"w":8054,"f":-0.01},{"w":8057,"f":-0.07},{"w":8060,"f":-0.02},{"w":8064,"f":-0.09},{"w":8067,"f":-0.03},{"w":8070,"f":-0.07},{"w":8073,"f":-0.01},{"w":8077,"f":-0.06},{"w":8080,"f":0.18},{"w":8083,"f":-0.07},{"w":8086,"f":-0.23},{"w":8090,"f":-0.05},{"w":8093,"f":-0.21},{"w":8096,"f":-0.12},{"w":8099,"f":-0.02},{"w":8103,"f":-0.08},{"w":8106,"f":0.00},{"w":8109,"f":0.07},{"w":8112,"f":-0.08},{"w":8116,"f":0.00},{"w":8119,"f":-0.05},{"w":8122,"f":0.03},{"w":8126,"f":-0.03},{"w":8129,"f":0.10},{"w":8132,"f":-0.13},{"w":8135,"f":-0.06},{"w":8139,"f":0.02},{"w":8142,"f":-0.08},{"w":8145,"f":0.00},{"w":8148,"f":0.08},{"w":8152,"f":0.11},{"w":8155,"f":0.02},{"w":8158,"f":0.05},{"w":8161,"f":-0.20},{"w":8165,"f":0.01},{"w":8168,"f":0.19},{"w":8171,"f":0.01},{"w":8174,"f":0.10},{"w":8178,"f":0.02},{"w":8181,"f":-0.24},{"w":8184,"f":-0.04},{"w":8187,"f":0.09},{"w":8191,"f":0.02},{"w":8194,"f":0.12},{"w":8197,"f":0.03},{"w":8200,"f":0.15},{"w":8204,"f":-0.01},{"w":8207,"f":0.11},{"w":8210,"f":0.02},{"w":8213,"f":0.13},{"w":8217,"f":0.00},{"w":8220,"f":-0.05},{"w":8223,"f":-0.08},{"w":8227,"f":-0.01},{"w":8230,"f":-0.06},{"w":8233,"f":0.00},{"w":8236,"f":-0.08},{"w":8240,"f":0.05},{"w":8243,"f":-0.02},{"w":8246,"f":0.04},{"w":8249,"f":0.20},{"w":8253,"f":0.08},{"w":8256,"f":-0.02},{"w":8259,"f":0.03},{"w":8262,"f":-0.03},{"w":8266,"f":-0.08},{"w":8269,"f":0.00},{"w":8272,"f":-0.20},{"w":8275,"f":-0.55},{"w":8279,"f":-0.05},{"w":8282,"f":-0.17},{"w":8285,"f":-0.24},{"w":8288,"f":-0.14},{"w":8292,"f":-0.44},{"w":8295,"f":-0.04},{"w":8298,"f":0.09},{"w":8302,"f":-0.03},{"w":8305,"f":-0.07},{"w":8308,"f":-0.14},{"w":8311,"f":-0.05},{"w":8315,"f":0.02},{"w":8318,"f":-0.10},{"w":8321,"f":-0.02},{"w":8324,"f":-0.12},{"w":8328,"f":-0.06},{"w":8331,"f":-0.14},{"w":8334,"f":-0.18},{"w":8337,"f":-0.05},{"w":8341,"f":0.21},{"w":8344,"f":-0.08},{"w":8347,"f":-0.46},{"w":8350,"f":-0.12},{"w":8354,"f":-0.18},{"w":8357,"f":-0.05},{"w":8360,"f":0.20},{"w":8363,"f":-0.14},{"w":8367,"f":-0.20},{"w":8370,"f":-0.10},{"w":8373,"f":-0.22},{"w":8376,"f":-0.30},{"w":8380,"f":-0.14},{"w":8383,"f":-0.03},{"w":8386,"f":-0.12},{"w":8390,"f":-0.30},{"w":8393,"f":-0.14},{"w":8396,"f":-0.05},{"w":8399,"f":-0.12},{"w":8403,"f":-0.02},{"w":8406,"f":-0.34},{"w":8409,"f":-0.16},{"w":8412,"f":-0.08},{"w":8416,"f":-0.20},{"w":8419,"f":-0.06},{"w":8422,"f":-0.17},{"w":8425,"f":-0.10},{"w":8429,"f":-0.15},{"w":8432,"f":0.04},{"w":8435,"f":0.19},{"w":8438,"f":-0.04},{"w":8442,"f":-0.17},{"w":8445,"f":0.21},{"w":8448,"f":0.49},{"w":8451,"f":-0.05},{"w":8455,"f":0.02},{"w":8458,"f":-0.30},{"w":8461,"f":-0.05},{"w":8465,"f":0.05},{"w":8468,"f":-0.05},{"w":8471,"f":0.08},{"w":8474,"f":-0.02},{"w":8478,"f":0.07},{"w":8481,"f":-0.10},{"w":8484,"f":0.05},{"w":8487,"f":-0.04},{"w":8491,"f":0.06},{"w":8494,"f":-0.01},{"w":8497,"f":0.22},{"w":8500,"f":0.12},{"w":8504,"f":0.17},{"w":8507,"f":0.07},{"w":8510,"f":0.01},{"w":8513,"f":0.06},{"w":8517,"f":-0.02},{"w":8520,"f":0.04},{"w":8523,"f":-0.02},{"w":8526,"f":0.11},{"w":8530,"f":-0.03},{"w":8533,"f":0.17},{"w":8536,"f":0.18},{"w":8540,"f":0.02},{"w":8543,"f":0.06},{"w":8546,"f":-0.07},{"w":8549,"f":0.06},{"w":8553,"f":-0.02},{"w":8556,"f":-0.05},{"w":8559,"f":-0.12},{"w":8562,"f":-0.04},{"w":8566,"f":0.02},{"w":8569,"f":-0.06},
      {"w":8572,"f":-0.11},{"w":8576,"f":-0.05},{"w":8579,"f":-0.12},{"w":8582,"f":-0.02},{"w":8585,"f":0.11},{"w":8589,"f":-0.06},{"w":8592,"f":0.04},{"w":8595,"f":-0.03},{"w":8598,"f":0.06},{"w":8602,"f":-0.05},{"w":8605,"f":0.12},{"w":8608,"f":-0.12},{"w":8611,"f":0.05},{"w":8615,"f":0.14},{"w":8618,"f":-0.41},{"w":8621,"f":-0.05},{"w":8624,"f":-0.22},{"w":8628,"f":-0.58},{"w":8631,"f":-0.30},{"w":8634,"f":-0.21},{"w":8637,"f":-0.26},{"w":8641,"f":-0.10},{"w":8644,"f":-0.27},{"w":8647,"f":-0.40},{"w":8651,"f":-0.30},{"w":8654,"f":-0.15},{"w":8657,"f":-0.44},{"w":8660,"f":-0.20},{"w":8664,"f":0.07},{"w":8667,"f":-0.10},{"w":8670,"f":0.14},{"w":8673,"f":0.03},{"w":8677,"f":-0.12},{"w":8680,"f":0.31},{"w":8683,"f":0.05},{"w":8686,"f":-0.02},{"w":8690,"f":0.27},{"w":8692,"f":0.12},{"w":8694,"f":0.30},{"w":8696,"f":0.05},{"w":8699,"f":0.22},{"w":8703,"f":0.00},{"w":8706,"f":-0.03},{"w":8709,"f":0.30},{"w":8712,"f":0.04},{"w":8716,"f":-0.07},{"w":8719,"f":0.00},{"w":8722,"f":-0.05},{"w":8726,"f":0.11},{"w":8729,"f":-0.13},{"w":8732,"f":-0.05},{"w":8735,"f":0.08},{"w":8739,"f":-0.10},{"w":8742,"f":-0.23},{"w":8745,"f":-0.10},{"w":8748,"f":0.17},{"w":8752,"f":0.00},{"w":8755,"f":-0.15},{"w":8758,"f":-0.05},{"w":8761,"f":-0.44},{"w":8765,"f":0.07},{"w":8768,"f":0.16},{"w":8771,"f":-0.06},{"w":8774,"f":-0.34},{"w":8778,"f":0.00},{"w":8781,"f":0.12},{"w":8784,"f":-0.19},{"w":8787,"f":0.04},{"w":8791,"f":-0.06},{"w":8794,"f":0.03},{"w":8797,"f":-0.08},{"w":8800,"f":-0.10},{"w":8804,"f":-0.05},{"w":8807,"f":-0.14},{"w":8810,"f":-0.04},{"w":8814,"f":-0.13},{"w":8817,"f":-0.44},{"w":8820,"f":-0.05},{"w":8823,"f":0.35},{"w":8827,"f":-0.05},{"w":8830,"f":-0.10},{"w":8833,"f":-0.17},{"w":8836,"f":-0.05},{"w":8840,"f":-0.20},{"w":8843,"f":-0.25},{"w":8846,"f":-0.10},{"w":8849,"f":0.06},{"w":8853,"f":-0.20},{"w":8856,"f":-0.12},{"w":8859,"f":-0.22},{"w":8862,"f":-0.25},{"w":8866,"f":-0.03},{"w":8869,"f":-0.20},{"w":8872,"f":-0.05},{"w":8875,"f":-0.24},{"w":8879,"f":0.17},{"w":8882,"f":-0.03},{"w":8885,"f":0.04},{"w":8888,"f":-0.03},{"w":8892,"f":0.08},{"w":8895,"f":0.12},{"w":8898,"f":0.00},{"w":8902,"f":-0.23},{"w":8905,"f":0.15},{"w":8908,"f":-0.47},{"w":8911,"f":0.04},{"w":8915,"f":0.23},{"w":8918,"f":-0.05},{"w":8921,"f":0.15},{"w":8924,"f":-0.12},{"w":8928,"f":0.17},{"w":8931,"f":-0.20},{"w":8934,"f":-0.51},{"w":8937,"f":0.05},{"w":8941,"f":-0.02},{"w":8944,"f":0.04},{"w":8947,"f":-0.35},{"w":8950,"f":-0.10},{"w":8954,"f":0.05},{"w":8957,"f":-0.01},{"w":8960,"f":0.03},{"w":8963,"f":-0.08},{"w":8967,"f":0.00},{"w":8970,"f":-0.05},{"w":8973,"f":0.01},{"w":8977,"f":-0.01},{"w":8980,"f":0.25},{"w":8983,"f":0.33},{"w":8986,"f":0.05},{"w":8990,"f":0.08},{"w":8993,"f":0.00},{"w":8996,"f":0.05},{"w":8999,"f":0.13},{"w":9003,"f":-0.02},{"w":9006,"f":0.03},{"w":9009,"f":-0.03},{"w":9012,"f":-0.14},{"w":9016,"f":-0.23},{"w":9019,"f":-0.02},{"w":9022,"f":-0.13},{"w":9025,"f":-0.03},{"w":9029,"f":0.03},{"w":9032,"f":-0.04},{"w":9035,"f":0.18},{"w":9038,"f":-0.16},{"w":9042,"f":-0.08},{"w":9045,"f":-0.03},{"w":9048,"f":-0.13},{"w":9051,"f":-0.05},{"w":9055,"f":-0.11},{"w":9058,"f":-0.04},{"w":9061,"f":-0.12},{"w":9065,"f":-0.05},{"w":9068,"f":-0.09},{"w":9071,"f":0.03},{"w":9074,"f":0.07},{"w":9078,"f":-0.13},{"w":9081,"f":0.07},{"w":9084,"f":0.28},{"w":9087,"f":0.00},{"w":9091,"f":0.05},{"w":9094,"f":-0.06},{"w":9097,"f":0.00},{"w":9100,"f":-0.05},{"w":9104,"f":0.02},{"w":9107,"f":-0.07},{"w":9110,"f":0.02},{"w":9113,"f":0.07},{"w":9117,"f":-0.08},{"w":9120,"f":0.05},{"w":9123,"f":-0.12},{"w":9126,"f":0.16},{"w":9130,"f":0.07},{"w":9133,"f":0.17},{"w":9136,"f":-0.10},{"w":9140,"f":0.16},{"w":9143,"f":0.00},{"w":9146,"f":-0.29},{"w":9149,"f":0.10},{"w":9153,"f":0.17},{"w":9156,"f":-0.05},{"w":9159,"f":0.14},{"w":9162,"f":-0.02},{"w":9166,"f":0.05},{"w":9169,"f":0.17},{"w":9172,"f":-0.08},{"w":9175,"f":-0.03},{"w":9179,"f":-0.12},{"w":9182,"f":-0.05},{"w":9185,"f":-0.13},{"w":9188,"f":-0.04},{"w":9192,"f":0.03},{"w":9195,"f":-0.04},{"w":9198,"f":0.02},{"w":9201,"f":0.13},{"w":9205,"f":-0.08},{"w":9208,"f":-0.15},{"w":9211,"f":-0.28},{"w":9213,"f":-0.08},{"w":9215,"f":-0.30},{"w":9218,"f":0.00},{"w":9221,"f":0.08},{"w":9224,"f":-0.17},{"w":9228,"f":0.19},{"w":9231,"f":0.10},{"w":9234,"f":-0.10},{"w":9237,"f":0.04},{"w":9240,"f":0.08},{"w":9244,"f":0.35},{"w":9247,"f":-0.05},{"w":9250,"f":-0.06},{"w":9254,"f":0.07},{"w":9257,"f":-0.02},{"w":9260,"f":0.06},{"w":9263,"f":-0.06},{"w":9267,"f":0.14},{"w":9270,"f":0.18},{"w":9273,"f":0.04},{"w":9276,"f":-0.18},{"w":9280,"f":0.16},{"w":9283,"f":0.19},{"w":9286,"f":0.03},{"w":9289,"f":-0.13},{"w":9293,"f":0.02},{"w":9296,"f":-0.13},{"w":9300,"f":-0.13}
    ]
  },
  "layer": [
    {
      "data": {"name": "sky"},
      "mark": {"type": "line", "color": "green", "strokeWidth": 2, "clip": true, "strokeJoin": "round"},
      "encoding": {
        "x": {
          "field": "w",
          "type": "quantitative",
          "scale": {"domain": [4750, 9300], "nice": false, "zero": false},
          "axis": {
            "title": "Wavelength",
            "titleFontSize": 33,
            "titleFontWeight": "normal",
            "titleColor": "black",
            "titleY": 84,
            "titleBaseline": "alphabetic",
            "values": [5000, 6000, 7000, 8000, 9000],
            "format": "d",
            "labelFontSize": 27,
            "labelColor": "black",
            "labelPadding": 18,
            "labelOverlap": false,
            "tickSize": 12,
            "tickWidth": 3,
            "tickColor": "black",
            "domain": false,
            "grid": false
          }
        },
        "y": {
          "field": "e",
          "type": "quantitative",
          "scale": {"domain": [-0.65, 0.55], "nice": false, "zero": false},
          "axis": {
            "title": "10⁻¹⁸ erg s⁻¹ cm⁻² Å⁻¹",
            "titleFontSize": 48,
            "titleFontWeight": "normal",
            "titleColor": "black",
            "titleX": -149,
            "titleBaseline": "alphabetic",
            "values": [-0.6, -0.4, -0.2, 0, 0.2, 0.4],
            "format": ".1f",
            "labelFontSize": 34,
            "labelColor": "black",
            "labelPadding": 19,
            "labelOverlap": false,
            "tickSize": 13,
            "tickWidth": 3,
            "tickColor": "black",
            "domain": false,
            "grid": false
          }
        }
      }
    },
    {
      "data": {"values": [{}]},
      "mark": {"type": "rule", "color": "blue", "strokeWidth": 6},
      "encoding": {
        "y": {"datum": 0, "type": "quantitative", "scale": {"domain": [-0.65, 0.55], "nice": false, "zero": false}}
      }
    },
    {
      "data": {"name": "flux"},
      "mark": {"type": "line", "color": "black", "strokeWidth": 4, "clip": true, "strokeJoin": "round"},
      "encoding": {
        "x": {"field": "w", "type": "quantitative", "scale": {"domain": [4750, 9300], "nice": false, "zero": false}},
        "y": {"field": "f", "type": "quantitative", "scale": {"domain": [-0.65, 0.55], "nice": false, "zero": false}}
      }
    }
  ]
}
